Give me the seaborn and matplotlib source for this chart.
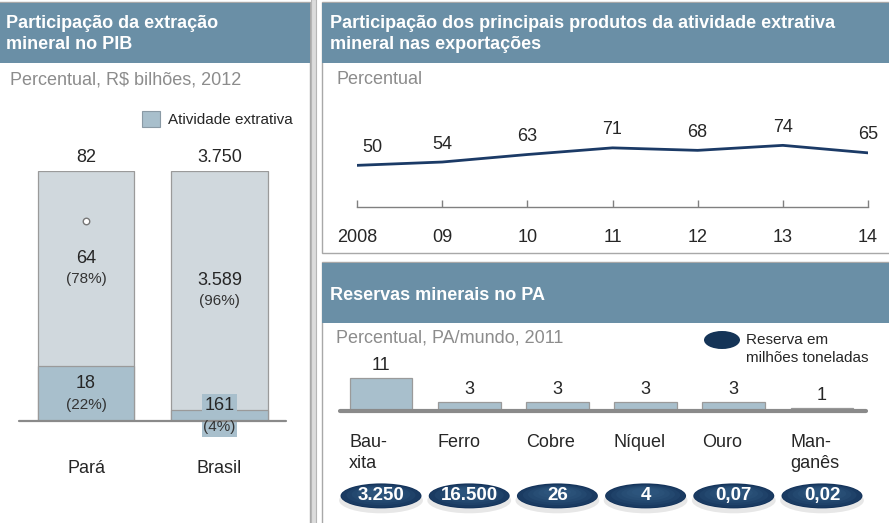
import matplotlib
matplotlib.use("Agg")
import matplotlib.pyplot as plt
from matplotlib.patches import Rectangle, Ellipse
import seaborn as sns

# dados
regioes = ["Pará", "Brasil"]
pib_total = [82, 3750]
pib_extrativa = [18, 161]
rotulo_total = ["82", "3.750"]
rotulo_outros = ["64", "3.589"]
rotulo_extrativa = ["18", "161"]

anos = [2008, 2009, 2010, 2011, 2012, 2013, 2014]
part_export = [50, 54, 63, 71, 68, 74, 65]
rotulo_anos = ["2008", "09", "10", "11", "12", "13", "14"]

minerais = ["Bau-\nxita", "Ferro", "Cobre", "Níquel", "Ouro", "Man-\nganês"]
reserva_pct = [11, 3, 3, 3, 3, 1]
reserva_ton = ["3.250", "16.500", "26", "4", "0,07", "0,02"]

# cores
cab = "#6A8FA6"
claro = "#D0D8DD"
escuro = "#A8BFCC"
azul = "#1B3A66"
cinza = "#8C8C8C"

sns.set_style("white")
plt.rcParams["font.family"] = ["Liberation Sans", "DejaVu Sans"]

W, H = 889, 523
fig = plt.figure(figsize=(W / 100, H / 100), dpi=100)


def caixa(x0, y0, x1, y1):
    return [x0 / W, 1 - y1 / H, (x1 - x0) / W, (y1 - y0) / H]


# fundo com paineis
bg = fig.add_axes([0, 0, 1, 1], zorder=0)
bg.set_xlim(0, W)
bg.set_ylim(H, 0)
bg.axis("off")
bg.add_patch(Rectangle((-2, 2), 312, H + 5, fc="white", ec="#A8A8A8", lw=1))
bg.add_patch(Rectangle((0, 3), 310, 60, fc=cab, ec="none"))
bg.add_patch(Rectangle((311, -1), 5, H + 2, fc="#DCDCDC", ec="#B5B5B5", lw=0.8))
bg.add_patch(Rectangle((322, 2), 580, 251, fc="white", ec="#A8A8A8", lw=1))
bg.add_patch(Rectangle((322, 3), 570, 60, fc=cab, ec="none"))
bg.add_patch(Rectangle((322, 262), 580, 300, fc="white", ec="#A8A8A8", lw=1))
bg.add_patch(Rectangle((322, 263), 570, 60, fc=cab, ec="none"))

titulo = dict(color="white", fontsize=13, fontweight="bold", ha="left")
bg.text(6, 15, "Participação da extração\nmineral no PIB", va="top", linespacing=1.3, **titulo)
bg.text(330, 15, "Participação dos principais produtos da atividade extrativa\nmineral nas exportações",
        va="top", linespacing=1.3, **titulo)
bg.text(330, 295, "Reservas minerais no PA", va="center", **titulo)

sub = dict(color=cinza, fontsize=13, va="center", ha="left")
bg.text(10, 80, "Percentual, R$ bilhões, 2012", **sub)
bg.text(336, 80, "Percentual", **sub)
bg.text(336, 338, "Percentual, PA/mundo, 2011", **sub)

# legendas manuais
bg.add_patch(Rectangle((142, 111), 18, 16, fc=escuro, ec="#8A9AA5", lw=0.8))
bg.text(168, 120, "Atividade extrativa", fontsize=11, va="center", ha="left")
bg.add_patch(Ellipse((722, 340), 36, 18, fc="#153457", ec="none"))
bg.text(746, 349, "Reserva em\nmilhões toneladas", fontsize=11, va="center", ha="left",
        linespacing=1.3)

# grafico 1: barras empilhadas (100%)
pct_extr = [e / t * 100 for e, t in zip(pib_extrativa, pib_total)]
ax1 = fig.add_axes(caixa(19, 171, 286, 421), zorder=2)
sns.barplot(x=regioes, y=[100] * len(regioes), color=claro, width=0.72,
            edgecolor="#9A9A9A", linewidth=0.9, saturation=1, ax=ax1)
sns.barplot(x=regioes, y=pct_extr, color=escuro, width=0.72,
            edgecolor="#9A9A9A", linewidth=0.9, saturation=1, ax=ax1)
ax1.set_xlim(-0.502, 1.498)
ax1.set_ylim(0, 100)
for s in ax1.spines.values():
    s.set_visible(False)
ax1.axhline(0, color="#8A8A8A", lw=1.6, clip_on=False, zorder=5)
ax1.set_yticks([])
ax1.tick_params(axis="x", length=0, pad=28, labelsize=13)
ax1.set_ylabel("")
ax1.patch.set_alpha(0)

# caixa do rotulo do Brasil
ax1.add_patch(Rectangle((1 - 17.5 / 133.5, pct_extr[1] / 2 - 21 / 2.5), 35 / 133.5, 43 / 2.5,
                        fc=escuro, ec="none", clip_on=False, zorder=4))
ax1.scatter([0], [80], s=22, facecolor="white", edgecolor="#777777", linewidth=1, zorder=6)

for i in range(len(regioes)):
    ax1.annotate(rotulo_total[i], (i, 100), xytext=(0, 13), textcoords="offset pixels",
                 ha="center", va="center", fontsize=13)
    c_out = (100 + pct_extr[i]) / 2
    ax1.annotate(rotulo_outros[i], (i, c_out), xytext=(0, 10), textcoords="offset pixels",
                 ha="center", va="center", fontsize=13)
    ax1.annotate(f"({100 - round(pct_extr[i])}%)", (i, c_out), xytext=(0, -10),
                 textcoords="offset pixels", ha="center", va="center", fontsize=11, color="#333333")
    c_ex = pct_extr[i] / 2
    ax1.annotate(rotulo_extrativa[i], (i, c_ex), xytext=(0, 10), textcoords="offset pixels",
                 ha="center", va="center", fontsize=13, zorder=7)
    ax1.annotate(f"({round(pct_extr[i])}%)", (i, c_ex), xytext=(0, -11),
                 textcoords="offset pixels", ha="center", va="center", fontsize=11,
                 color="#333333", zorder=7)

# grafico 2: linha
ax2 = fig.add_axes(caixa(357, 123.7, 868, 207), zorder=2)
sns.lineplot(x=anos, y=part_export, color=azul, lw=2, ax=ax2)
ax2.set_xlim(2008, 2014)
ax2.set_ylim(0, 100)
for k in ["top", "left", "right"]:
    ax2.spines[k].set_visible(False)
ax2.spines["bottom"].set_color("#808080")
ax2.spines["bottom"].set_linewidth(1)
ax2.set_yticks([])
ax2.set_xticks(anos)
ax2.set_xticklabels(rotulo_anos)
ax2.tick_params(axis="x", bottom=True, direction="in", length=5, width=1, color="#808080",
                pad=16, labelsize=13)
ax2.patch.set_alpha(0)
for a, v in zip(anos, part_export):
    dx = 15 if a == anos[0] else 0
    ax2.annotate(str(v), (a, v), xytext=(dx, 18), textcoords="offset pixels",
                 ha="center", va="center", fontsize=13, annotation_clip=False)

# grafico 3: reservas
ax3 = fig.add_axes(caixa(340, 372, 866, 411), zorder=2)
sns.barplot(x=list(range(len(minerais))), y=reserva_pct, color=escuro, width=0.714,
            edgecolor="#9A9A9A", linewidth=0.9, saturation=1, ax=ax3)
ax3.set_xlim(-0.465, 5.499)
ax3.set_ylim(0, 13)
for s in ax3.spines.values():
    s.set_visible(False)
ax3.axhline(0, color="#8A8A8A", lw=3, clip_on=False, zorder=5)
ax3.set_xticks([])
ax3.set_yticks([])
ax3.patch.set_alpha(0)
for i, v in enumerate(reserva_pct):
    ax3.annotate(str(v), (i, v), xytext=(0, 12), textcoords="offset pixels",
                 ha="center", va="center", fontsize=13, annotation_clip=False)
    ax3.text(i - 0.36, -7.8, minerais[i], ha="left", va="top", fontsize=13,
             linespacing=1.25, clip_on=False)
    # sombra e elipse com degrade
    ax3.add_patch(Ellipse((i, -29.8), 0.95, 8.6, fc="#C4C4C4", ec="none", alpha=0.4, clip_on=False))
    ax3.add_patch(Ellipse((i, -28.3), 0.918, 8.33, fc="#14335A", ec="none", clip_on=False))
    for k in range(6):
        f = 1 - k * 0.13
        ax3.add_patch(Ellipse((i, -28.3 + 0.25 * k), 0.9 * f, 7.6 * f, fc="#3C6892",
                              ec="none", alpha=0.16, clip_on=False))
    ax3.text(i, -28.3, reserva_ton[i], ha="center", va="center", fontsize=13.5,
             fontweight="bold", color="white", clip_on=False)

fig.savefig("out.png", dpi=100)
